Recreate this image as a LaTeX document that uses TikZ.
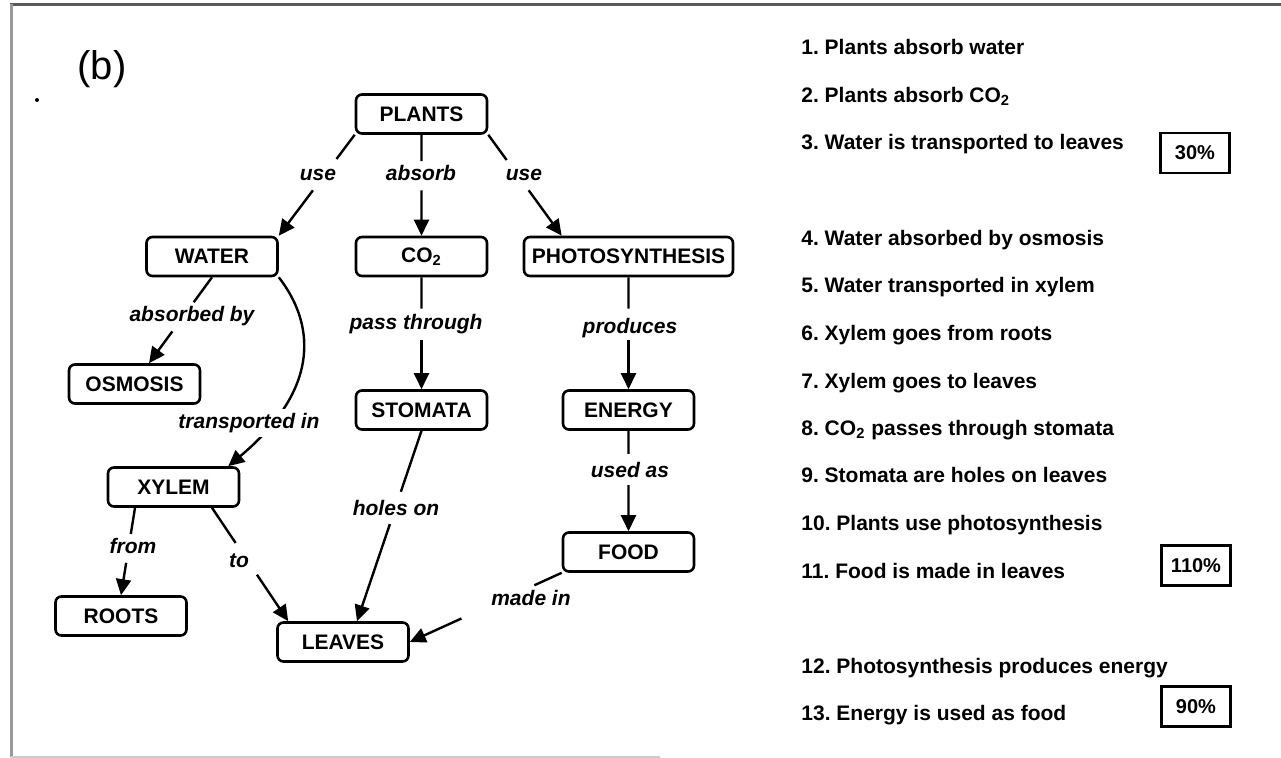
\documentclass[tikz,border=0pt]{standalone}
\usepackage{fontspec}
\setmainfont{Liberation Sans}
\usetikzlibrary{calc,arrows.meta}
\frenchspacing
\begin{document}
\begin{tikzpicture}[x=0.5pt,y=-0.5pt,
  box/.style={draw, line width=1.3pt, rounded corners=3pt, minimum width=65.5pt,
    minimum height=19.5pt, inner sep=0pt, font=\bfseries\fontsize{10.5}{12}\selectfont},
  lbl/.style={anchor=base, inner sep=0pt, font=\bfseries\itshape\fontsize{10.5}{12}\selectfont},
  item/.style={anchor=base west, inner sep=0pt, font=\bfseries\fontsize{10.5}{12}\selectfont},
  pct/.style={draw, line width=1.1pt, minimum width=34.5pt, minimum height=20pt,
    inner sep=0pt, font=\bfseries\fontsize{10}{12}\selectfont},
  ln/.style={line width=1.2pt},
  arr/.style={line width=1.2pt, -{Triangle[length=8pt,width=7.5pt]}}]
\useasboundingbox (0,0) rectangle (1281,758);
% frame
\draw[black!65, line width=1.5pt] (10,5) -- (1281,5);
\draw[black!40, line width=1.5pt] (11.5,4) -- (11.5,757);
\draw[black!20, line width=1pt] (11,757) -- (660,757);
% tag
\node[inner sep=0pt, font=\fontsize{20}{24}\selectfont] (tag) at (102,69) {(b)};
\fill (37,100) circle (1pt);
% nodes
\node[box] (plants) at (421.5,114) {PLANTS};
\node[box] (water) at (212,256.5) {WATER};
\node[box] (co2) at (421.5,256.5) {CO\textsubscript{2}};
\node[box, minimum width=104.5pt] (photo) at (628.5,256.5) {PHOTOSYNTHESIS};
\node[box] (osmosis) at (134.5,384) {OSMOSIS};
\node[box] (stomata) at (421.5,410) {STOMATA};
\node[box] (energy) at (628.5,410) {ENERGY};
\node[box] (xylem) at (173.5,487) {XYLEM};
\node[box] (food) at (628.5,552) {FOOD};
\node[box] (roots) at (121,616) {ROOTS};
\node[box] (leaves) at (343,642) {LEAVES};
% labels
\node[lbl] (l1) at (318,181) {use};
\node[lbl] (l2) at (421,181) {absorb};
\node[lbl] (l3) at (524,181) {use};
\node[lbl] (l4) at (192,322) {absorbed by};
\node[lbl] (l6) at (416,330) {pass through};
\node[lbl] (l7) at (630,334) {produces};
\node[lbl] (l8) at (630,478) {used as};
\node[lbl] (l9) at (133,554) {from};
\node[lbl] (l10) at (239,568) {to};
\node[lbl] (l11) at (396,516) {holes on};
\node[lbl] (l12) at (531,606) {made in};
% edges
\draw[ln] (plants.south west) -- ($(plants.south west)!0.24!(water.north east)$);
\draw[arr] ($(plants.south west)!0.55!(water.north east)$) -- (water.north east);
\draw[ln] (plants.south) -- ($(plants.south)!0.26!(co2.north)$);
\draw[arr] ($(plants.south)!0.55!(co2.north)$) -- (co2.north);
\coordinate (pin) at ($(photo.north west)+(39,0)$);
\draw[ln] (plants.south east) -- ($(plants.south east)!0.25!(pin)$);
\draw[arr] ($(plants.south east)!0.55!(pin)$) -- (pin);
\coordinate (oin) at ($(osmosis.north)+(14.5,0)$);
\draw[ln] (water.south) -- ($(water.south)!0.29!(oin)$);
\draw[arr] ($(water.south)!0.63!(oin)$) -- (oin);
\draw[ln] (co2.south) -- ($(co2.south)!0.28!(stomata.north)$);
\draw[arr] ($(co2.south)!0.56!(stomata.north)$) -- (stomata.north);
\draw[ln] (photo.south) -- ($(photo.south)!0.28!(energy.north)$);
\draw[arr] ($(photo.south)!0.56!(energy.north)$) -- (energy.north);
\draw[ln] (energy.south) -- ($(energy.south)!0.23!(food.north)$);
\draw[arr] ($(energy.south)!0.54!(food.north)$) -- (food.north);
\coordinate (xa) at ($(xylem.south)+(-38.5,0)$);
\draw[ln] (xa) -- ($(xa)!0.30!(roots.north)$);
\draw[arr] ($(xa)!0.63!(roots.north)$) -- (roots.north);
\coordinate (xb) at ($(xylem.south)+(38.5,0)$);
\coordinate (lin) at ($(leaves.north west)+(12,0)$);
\draw[ln] (xb) -- ($(xb)!0.31!(lin)$);
\draw[arr] ($(xb)!0.59!(lin)$) -- (lin);
\coordinate (lin2) at ($(leaves.north)+(14,0)$);
\draw[ln] (stomata.south) -- ($(stomata.south)!0.32!(lin2)$);
\draw[arr] ($(stomata.south)!0.49!(lin2)$) -- (lin2);
\draw[ln] (food.south west) -- ($(food.south west)!0.18!(leaves.east)$);
\draw[arr] ($(food.south west)!0.66!(leaves.east)$) -- (leaves.east);
% curved edge water -> xylem
\coordinate (xin) at ($(xylem.north east)+(-12,0)$);
\draw[arr] (water.south east) .. controls (312,320) and (325,385) .. (xin);
\node[lbl, anchor=center, fill=white, inner xsep=1pt, inner ysep=2pt] (l5) at (249,423) {transported in};
% list
\node[item] (i1) at (801,54.5) {1. Plants absorb water};
\node[item] (i2) at (801,102.5) {2. Plants absorb CO\textsubscript{2}};
\node[item] (i3) at (801,149.5) {3. Water is transported to leaves};
\node[item] (i4) at (801,245.5) {4. Water absorbed by osmosis};
\node[item] (i5) at (801,292.5) {5. Water transported in xylem};
\node[item] (i6) at (801,340.5) {6. Xylem goes from roots};
\node[item] (i7) at (801,388.5) {7. Xylem goes to leaves};
\node[item] (i8) at (801,435.5) {8. CO\textsubscript{2} passes through stomata};
\node[item] (i9) at (801,482.5) {9. Stomata are holes on leaves};
\node[item] (i10) at (801,530.5) {10. Plants use photosynthesis};
\node[item] (i11) at (801,578.5) {11. Food is made in leaves};
\node[item] (i12) at (801,673.5) {12. Photosynthesis produces energy};
\node[item] (i13) at (801,720.5) {13. Energy is used as food};
\node[pct] (p1) at (1195,153) {30\%};
\node[pct] (p2) at (1196,565.5) {110\%};
\node[pct] (p3) at (1196,706.5) {90\%};
\end{tikzpicture}
\end{document}
